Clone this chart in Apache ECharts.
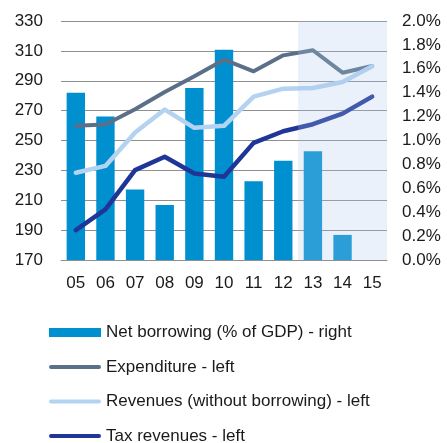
<!DOCTYPE html>
<html>
<head>
<meta charset="utf-8">
<script src="https://cdn.jsdelivr.net/npm/echarts@6/dist/echarts.min.js"></script>
<style>
  html, body { margin: 0; padding: 0; background: #fff; }
  #main { width: 447px; height: 443px; }
</style>
</head>
<body>
<div id="main"></div>
<script>
var years = ['05', '06', '07', '08', '09', '10', '11', '12', '13', '14', '15'];
var netBorrowing = [1.40, 1.20, 0.59, 0.46, 1.44, 1.76, 0.66, 0.83, 0.91, 0.21, null];
var expenditure = [259.8, 260.7, 270.9, 282.5, 293.0, 304.1, 296.3, 307.0, 310.4, 295.4, 299.9];
var revenues = [228.4, 233.0, 255.3, 270.7, 258.5, 259.8, 279.4, 284.7, 285.2, 289.2, 299.7];
var taxRevenues = [190.0, 203.9, 230.2, 239.1, 227.9, 225.7, 248.4, 256.2, 260.9, 268.0, 279.4];
var leftTicks = [170, 190, 210, 230, 250, 270, 290, 310, 330];
// forecast years start at index 8 ('13')
var forecastFrom = 8;

var myChart = echarts.init(document.getElementById('main'));
var txt = {color: '#1a1a1a', fontSize: 17, fontFamily: 'Liberation Sans'};
// legend keys: solid block for the bars, thick rounded line for the lines
var barIcon = 'path://M0,0 L52,0 L52,9 L0,9 Z';
var lineIcon = 'path://M2,2.5 L50,2.5 A2,2 0 0 1 50,6.5 L2,6.5 A2,2 0 0 1 2,2.5 Z M0,0 L0,0.01 M52,9 L52,8.99';

option = {
    animation: false,
    textStyle: {fontFamily: 'Liberation Sans'},
    grid: {left: 61, right: 60, top: 21, bottom: 183},
    legend: {
        orient: 'vertical',
        left: 44,
        top: 319,
        height: 200,
        itemWidth: 52,
        itemHeight: 9,
        itemGap: 17.5,
        textStyle: txt,
        data: [
            {name: 'Net borrowing (% of GDP) - right', icon: barIcon},
            {name: 'Expenditure - left', icon: lineIcon},
            {name: 'Revenues (without borrowing) - left', icon: lineIcon},
            {name: 'Tax revenues - left', icon: lineIcon}
        ]
    },
    xAxis: [{
        type: 'category',
        data: years,
        axisLine: {lineStyle: {color: '#8f8f8f', width: 1}},
        axisTick: {show: false},
        axisLabel: Object.assign({margin: 15}, txt)
    }, {
        // helper axis for the shaded forecast block
        type: 'value',
        min: 0,
        max: years.length,
        show: false
    }],
    yAxis: [{
        type: 'value',
        min: 170,
        max: 330,
        axisLine: {show: false},
        axisTick: {show: false, customValues: leftTicks},
        splitLine: {lineStyle: {color: '#8f8f8f', width: 1}},
        axisLabel: Object.assign({margin: 18, customValues: leftTicks}, txt)
    }, {
        type: 'value',
        min: 0,
        max: 2,
        interval: 0.2,
        position: 'right',
        axisLine: {show: false},
        axisTick: {show: false},
        splitLine: {show: false},
        axisLabel: Object.assign({margin: 15, formatter: function (v) { return v.toFixed(1) + '%'; }}, txt)
    }],
    series: [
        {
            name: 'Net borrowing (% of GDP) - right',
            type: 'bar',
            yAxisIndex: 1,
            barWidth: '62%',
            itemStyle: {color: '#0090d0'},
            data: netBorrowing
        },
        {
            name: 'Expenditure - left',
            type: 'line',
            z: 3,
            symbol: 'none',
            lineStyle: {color: '#5b7088', width: 4, cap: 'round', join: 'round'},
            itemStyle: {color: '#5b7088'},
            data: expenditure
        },
        {
            name: 'Revenues (without borrowing) - left',
            type: 'line',
            z: 3,
            symbol: 'none',
            lineStyle: {color: '#b3d3f0', width: 4.5, cap: 'round', join: 'round'},
            itemStyle: {color: '#b3d3f0'},
            data: revenues
        },
        {
            name: 'Tax revenues - left',
            type: 'line',
            z: 3,
            symbol: 'none',
            lineStyle: {color: '#1f3597', width: 4.5, cap: 'round', join: 'round'},
            itemStyle: {color: '#1f3597'},
            data: taxRevenues
        },
        {
            type: 'line',
            xAxisIndex: 1,
            z: 10,
            symbol: 'none',
            silent: true,
            data: [],
            markArea: {
                silent: true,
                z: 10,
                itemStyle: {color: 'rgba(172,199,235,0.25)'},
                data: [[{xAxis: forecastFrom}, {xAxis: years.length}]]
            }
        }
    ]
};

myChart.setOption(option);
</script>
</body>
</html>
